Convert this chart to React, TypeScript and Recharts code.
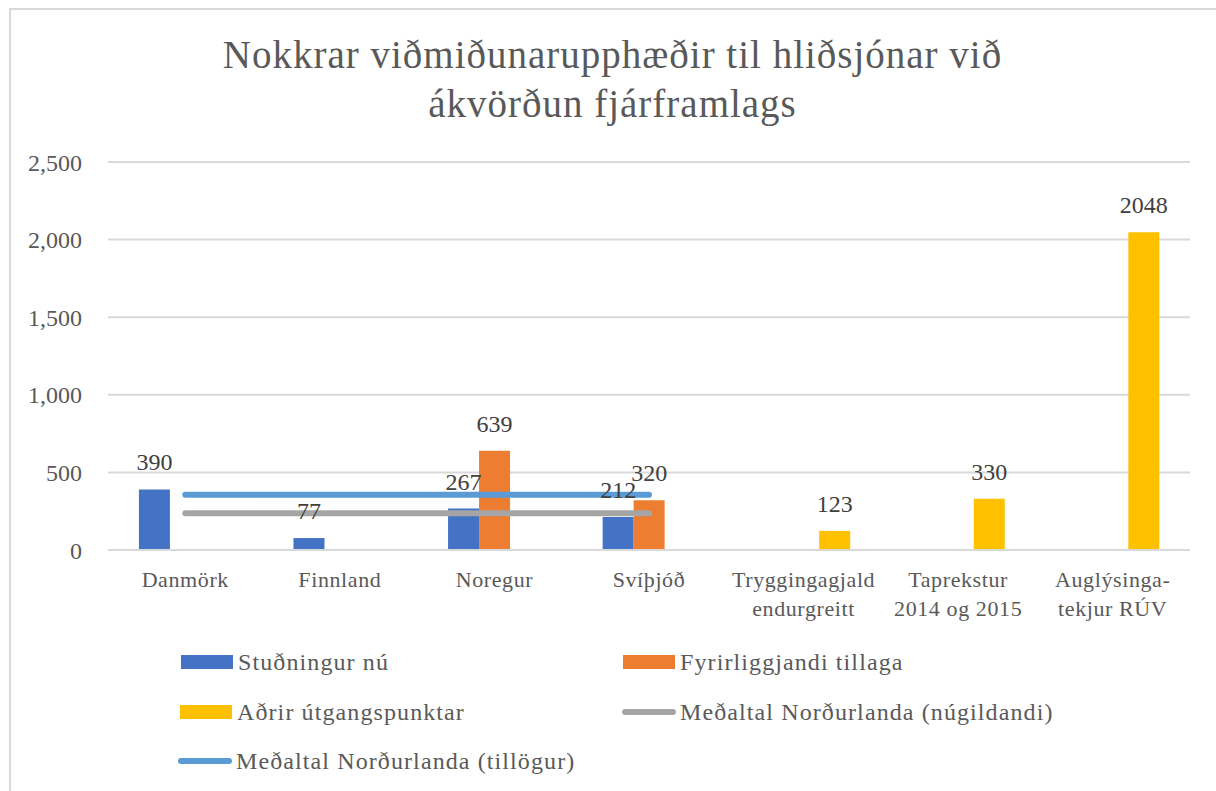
import React from 'react'
import { ComposedChart, Bar, Line, XAxis, YAxis, CartesianGrid, LabelList } from 'recharts'

const categories = [
  'Danmörk',
  'Finnland',
  'Noregur',
  'Svíþjóð',
  'Tryggingagjald\nendurgreitt',
  'Taprekstur\n2014 og 2015',
  'Auglýsinga-\ntekjur RÚV',
]
const studningurNu = [390, 77, 267, 212, null, null, null]
const fyrirliggjandiTillaga = [null, null, 639, 320, null, null, null]
const adrirUtgangspunktar = [null, null, null, null, 123, 330, 2048]
const medaltalNugildandi = [237, 237, 237, 237, null, null, null]
const medaltalTillogur = [356, 356, 356, 356, null, null, null]
const yTicks = [0, 500, 1000, 1500, 2000, 2500]

const FONT = 'Liberation Serif, DejaVu Serif, serif'
const TEXT = '#595959'

const data = categories.map((name, i) => ({
  name,
  studningurNu: studningurNu[i],
  fyrirliggjandiTillaga: fyrirliggjandiTillaga[i],
  adrirUtgangspunktar: adrirUtgangspunktar[i],
  medaltalNugildandi: medaltalNugildandi[i],
  medaltalTillogur: medaltalTillogur[i],
}))

const legendItems = [
  { label: 'Stuðningur nú', color: '#4472C4', type: 'rect', left: 181, top: 662 },
  { label: 'Fyrirliggjandi tillaga', color: '#ED7D31', type: 'rect', left: 623, top: 662 },
  { label: 'Aðrir útgangspunktar', color: '#FFC000', type: 'rect', left: 180, top: 712 },
  { label: 'Meðaltal Norðurlanda (núgildandi)', color: '#A5A5A5', type: 'line', left: 622, top: 712 },
  { label: 'Meðaltal Norðurlanda (tillögur)', color: '#5B9BD5', type: 'line', left: 178, top: 761 },
]

function CategoryTick({ x, y, payload }: any) {
  const lines = String(payload.value).split('\n')
  return (
    <text x={x} y={y} textAnchor="middle" fill={TEXT} fontSize={22} style={{ fontFamily: FONT, letterSpacing: 0.6 }}>
      {lines.map((l, i) => (
        <tspan key={i} x={x} dy={i === 0 ? 37 : 29}>
          {l}
        </tspan>
      ))}
    </text>
  )
}

function ValueLabel({ x, y, width, value }: any) {
  if (value == null) return null
  return (
    <text x={x + width / 2} y={y - 19} textAnchor="middle" fill="#404040" fontSize={24} style={{ fontFamily: FONT }}>
      {value}
    </text>
  )
}

export default function App() {
  return (
    <div
      style={{
        position: 'fixed',
        left: 0,
        top: 0,
        width: 1216,
        height: 791,
        background: '#fff',
        overflow: 'hidden',
        fontFamily: FONT,
      }}
    >
      <div
        style={{
          position: 'absolute',
          left: 9,
          top: 8,
          width: 1240,
          height: 800,
          borderTop: '2px solid #d9d9d9',
          borderLeft: '2px solid #d9d9d9',
        }}
      />
      <div
        style={{
          position: 'absolute',
          left: 9,
          width: 1207,
          top: 30,
          textAlign: 'center',
          fontSize: 39,
          letterSpacing: 1,
          lineHeight: '49px',
          color: TEXT,
        }}
      >
        Nokkrar viðmiðunarupphæðir til hliðsjónar við
        <br />
        ákvörðun fjárframlags
      </div>
      <div style={{ position: 'absolute', left: 0, top: 0 }}>
        <ComposedChart
          width={1216}
          height={791}
          data={data}
          margin={{ top: 162, right: 26, bottom: 171, left: 48 }}
          barCategoryGap="20%"
          barGap={0}
        >
          <CartesianGrid vertical={false} stroke="#d9d9d9" strokeWidth={2} />
          <XAxis
            dataKey="name"
            height={70}
            axisLine={{ stroke: '#d9d9d9', strokeWidth: 2 }}
            tickLine={false}
            tickSize={0}
            tickMargin={0}
            interval={0}
            tick={<CategoryTick />}
          />
          <YAxis
            width={60}
            domain={[0, 2500]}
            ticks={yTicks}
            axisLine={false}
            tickLine={false}
            tickSize={0}
            tickMargin={26}
            tickFormatter={(v: number) => v.toLocaleString('en-US')}
            tick={{ fill: TEXT, fontSize: 24, style: { fontFamily: FONT } }}
          />
          <Bar dataKey="studningurNu" fill="#4472C4" isAnimationActive={false}>
            <LabelList dataKey="studningurNu" content={<ValueLabel />} />
          </Bar>
          <Bar dataKey="fyrirliggjandiTillaga" fill="#ED7D31" isAnimationActive={false}>
            <LabelList dataKey="fyrirliggjandiTillaga" content={<ValueLabel />} />
          </Bar>
          <Bar dataKey="adrirUtgangspunktar" fill="#FFC000" isAnimationActive={false}>
            <LabelList dataKey="adrirUtgangspunktar" content={<ValueLabel />} />
          </Bar>
          <Line
            dataKey="medaltalNugildandi"
            stroke="#A5A5A5"
            strokeWidth={6}
            strokeLinecap="round"
            dot={false}
            isAnimationActive={false}
          />
          <Line
            dataKey="medaltalTillogur"
            stroke="#5B9BD5"
            strokeWidth={6}
            strokeLinecap="round"
            dot={false}
            isAnimationActive={false}
          />
        </ComposedChart>
      </div>
      {legendItems.map((item) => (
        <div
          key={item.label}
          style={{
            position: 'absolute',
            left: item.left,
            top: item.top - 15,
            height: 30,
            display: 'flex',
            alignItems: 'center',
            fontSize: 24,
            letterSpacing: 1.1,
            color: TEXT,
            whiteSpace: 'nowrap',
          }}
        >
          {item.type === 'rect' ? (
            <span style={{ display: 'inline-block', width: 52, height: 14, background: item.color, marginRight: 5 }} />
          ) : (
            <span
              style={{ display: 'inline-block', width: 54, height: 6, borderRadius: 3, background: item.color, marginRight: 4 }}
            />
          )}
          {item.label}
        </div>
      ))}
    </div>
  )
}
